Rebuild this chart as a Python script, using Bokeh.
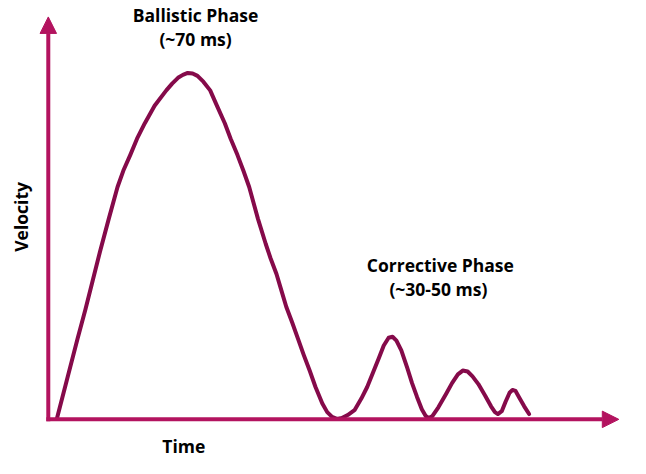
from bokeh.plotting import figure
from bokeh.models import Arrow, NormalHead, Label, ColumnDataSource
from bokeh.embed import file_html
from bokeh.resources import INLINE

# Velocity profile (time units, velocity units; origin at axes corner)
time = [9, 19, 30, 38, 45.5, 53, 62, 71, 77, 84, 91, 99, 109, 121, 127, 133, 138, 143,
        148, 153, 159, 166, 173, 181, 187, 194, 200, 206, 215, 223, 228, 234, 239, 244,
        250, 256, 262, 268, 274, 281, 286, 291, 296, 301, 307, 314, 321, 327, 333, 339,
        344, 349, 353, 357, 362, 368, 373, 378, 383, 387, 390, 394, 400, 408, 414, 420,
        425, 430, 435, 441, 448, 454, 458, 461, 465, 469, 473, 476, 479, 483, 488, 493]
velocity = [1.5, 40.5, 83.5, 113.5, 143.5, 173.5, 207.5, 240.5, 257.5, 273.5, 290.5,
            306.5, 324.5, 340.5, 347.5, 353.5, 356.5, 358.5, 358, 355.5, 349.5, 340.5,
            324.5, 306.5, 290.5, 273.5, 257.5, 240.5, 207.5, 181.5, 166.5, 150.5, 133.5,
            116.5, 100.5, 83.5, 66.5, 50.5, 33.5, 16.5, 7.5, 2.5, 0.5, 1.5, 4.5, 9.5,
            21.5, 33.5, 48.5, 63.5, 76.5, 84.5, 85.5, 81.5, 71.5, 53.5, 37.5, 23.5, 10.5,
            3.5, 1.5, 3.5, 12.5, 26.5, 37.5, 46.5, 50.5, 49.5, 44.5, 36.5, 24.5, 13.5,
            7.5, 5.5, 8.5, 18.5, 27.5, 30.5, 29.5, 22.5, 13.5, 5.5]

axis_x_end = 585      # x-axis arrow tip
axis_y_end = 416.5    # y-axis arrow tip

annotations = [
    ("Ballistic Phase", 151, 418.5),
    ("(~70 ms)", 151, 393.5),
    ("Corrective Phase", 402, 159.5),
    ("(~30-50 ms)", 400, 134.5),
    ("Time", 139, -27.5),
]
y_label = ("Velocity", -28, 209.5)

AXIS_COLOR = "#B3135F"
CURVE_COLOR = "#850A4A"
FONT = "Open Sans"
FONT_SIZE = "17.5px"

p = figure(width=630, height=458, output_backend="svg", toolbar_location=None,
           x_range=(-49, 597), y_range=(-40.5, 433.5), min_border=0,
           outline_line_color=None, background_fill_color="white")
p.axis.visible = False
p.grid.visible = False

# axes with arrow heads
p.add_layout(Arrow(x_start=-2, y_start=0, x_end=axis_x_end, y_end=0,
                   line_color=AXIS_COLOR, line_width=4,
                   end=NormalHead(size=16.5, fill_color=AXIS_COLOR, line_color=AXIS_COLOR, line_width=1)))
p.add_layout(Arrow(x_start=0, y_start=-2, x_end=0, y_end=axis_y_end,
                   line_color=AXIS_COLOR, line_width=4,
                   end=NormalHead(size=16.5, fill_color=AXIS_COLOR, line_color=AXIS_COLOR, line_width=1)))

src = ColumnDataSource(dict(t=time, v=velocity))
p.line("t", "v", source=src, line_color=CURVE_COLOR, line_width=4,
       line_join="round", line_cap="round")

for txt, x, y in annotations:
    p.add_layout(Label(x=x, y=y, text=txt, text_align="center", text_baseline="middle",
                       text_font=FONT, text_font_style="bold", text_font_size=FONT_SIZE,
                       text_color="black"))
p.add_layout(Label(x=y_label[1], y=y_label[2], text=y_label[0], angle=90, angle_units="deg",
                   text_align="center", text_baseline="middle",
                   text_font=FONT, text_font_style="bold", text_font_size=FONT_SIZE,
                   text_color="black"))

open("out.html", "w").write(file_html(p, INLINE))
